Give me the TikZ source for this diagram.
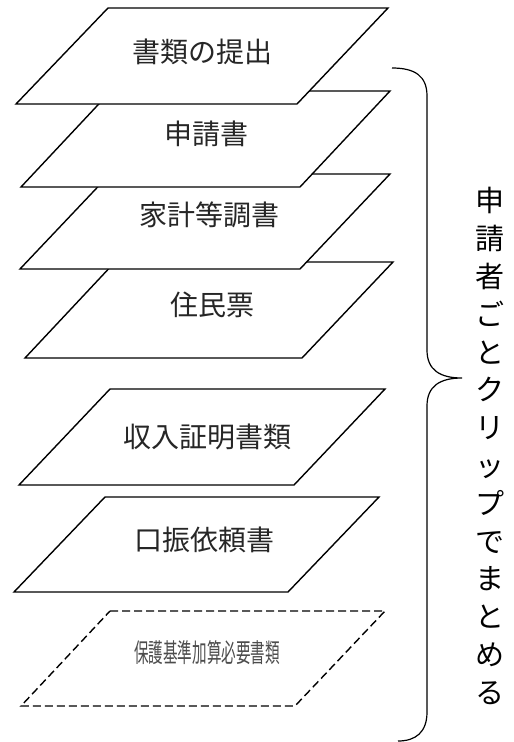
\documentclass[tikz,border=0pt]{standalone}
\usepackage{fontspec}
\usepackage{graphicx}
\newfontfamily\jp{Noto Sans CJK JP}
\begin{document}
\begin{tikzpicture}[x=1pt,y=-1pt,
  sheet/.style={draw=black,fill=white,line width=1.4pt,line join=miter},
  dsheet/.style={draw=black,fill=white,line width=1.4pt,dash pattern=on 8pt off 4pt},
  lbl/.style={inner sep=0pt,text=black!85,font=\jp\fontsize{28}{30}\selectfont},
  slbl/.style={inner sep=0pt,text=black!70,font=\jp\fontsize{26}{28}\selectfont},
  vlbl/.style={inner sep=0pt,align=center,text=black,font=\jp\fontsize{29}{37.8}\selectfont},
  bracestyle/.style={draw=black,line width=1.2pt}]
\useasboundingbox (0,0) rectangle (514,742);
% stacked sheets (bottom first)
\draw[sheet] (115,262) -- (393,262) -- (302,358) -- (25,358) -- cycle;
\draw[sheet] (110,174) -- (390,174) -- (300,269) -- (20,269) -- cycle;
\draw[sheet] (111,91) -- (390,91) -- (300,187) -- (21,187) -- cycle;
\draw[sheet] (108,8) -- (388,8) -- (297,104) -- (16,104) -- cycle;
% separate sheets
\draw[sheet] (110,389) -- (385,389) -- (294,485) -- (19,485) -- cycle;
\draw[sheet] (105,497) -- (379,497) -- (288,592) -- (14,592) -- cycle;
\draw[dsheet] (110,611) -- (385,611) -- (295,706) -- (21,706) -- cycle;
% labels
\node[lbl] (t1) at (202,52) {書類の提出};
\node[lbl] (t2) at (206,134) {申請書};
\node[lbl] (t3) at (209,215) {家計等調書};
\node[lbl] (t4) at (212,305) {住民票};
\node[lbl] (t5) at (207,437) {収入証明書類};
\node[lbl] (t6) at (204,540) {口振依頼書};
\node[slbl] (t7) at (207,653) {\scalebox{0.56}[1]{保護基準加算必要書類}};
% brace
\coordinate (btop) at (392,68);
\coordinate (btip) at (462,378);
\coordinate (bbot) at (398,741);
\draw[bracestyle] (btop) .. controls (415,68) and (427,76) .. (427,96)
  -- (427,350) .. controls (427,370) and (440,378) .. (btip)
  .. controls (440,378) and (427,386) .. (427,406)
  -- (427,712) .. controls (427,732) and (416,741) .. (bbot);
% vertical text
\node[vlbl] (side) at (490,446) {申\\請\\者\\ご\\と\\ク\\リ\\ッ\\プ\\で\\ま\\と\\め\\る};
\end{tikzpicture}
\end{document}
